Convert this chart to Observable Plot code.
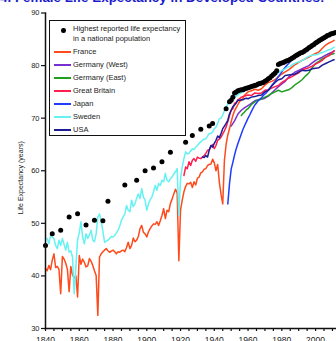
<!DOCTYPE html>
<html><head><meta charset="utf-8">
<script src="https://cdn.jsdelivr.net/npm/d3@7"></script>
<script src="https://cdn.jsdelivr.net/npm/@observablehq/plot@0.6"></script>
<style>
body{margin:0;width:336px;height:341px;overflow:hidden;position:relative;background:#fff;font-family:"Liberation Sans",Arial,sans-serif}
#title{position:absolute;left:0;top:-10px;font:bold 13.4px "Liberation Sans",Arial,sans-serif;color:#1c1ccc;white-space:nowrap;line-height:16px}
#chart{position:absolute;left:0;top:0}
#legend{position:absolute;left:49px;top:20px;width:135px;height:114px;border:1.3px solid #111;background:#fff;font-size:7.5px;color:#222}
.li{position:absolute;left:0;height:10px;line-height:10px;white-space:nowrap}
.sw{position:absolute;left:4px;top:4px;width:17px;height:2px}
.lt{position:absolute;left:23px;top:0}
</style></head><body>
<div id="title">4. Female Life Expectancy in Developed Countries:</div>
<div id="chart"></div>
<div id="legend"></div>
<script>
// Record (highest reported) female life expectancy
const record = [[1840,45.8],[1844,48.0],[1849,48.7],[1854,51.2],[1859,51.8],[1864,49.7],[1869,50.6],[1874,50.5],[1877,54.2],[1887,57.3],[1894,58.2],[1899,60.0],[1904,60.5],[1909,61.7],[1914,63.5],[1923,65.4],[1927,66.7],[1932,67.9],[1937,68.5],[1939,69.0],[1947,71.8],[1949,73.1],
[1950,73.4],[1951,74.0],[1952,74.8],[1953,75.0],[1954,75.2],[1955,75.3],[1956,75.4],[1957,75.4],[1958,75.6],[1959,75.7],[1960,75.8],[1961,75.9],[1962,76.0],[1963,76.1],[1964,76.2],[1965,76.3],[1966,76.5],[1967,76.6],[1968,76.7],[1969,76.8],[1970,77.0],[1971,77.2],[1972,77.5],[1973,77.7],[1974,78.0],[1975,78.3],[1976,78.6],[1977,79.0],[1978,80.2],[1979,80.4],[1980,80.5],[1981,80.6],[1982,80.8],[1983,80.9],[1984,81.0],[1985,81.2],[1986,81.4],[1987,81.6],[1988,81.8],[1989,82.0],[1990,82.2],[1991,82.4],[1992,82.5],[1993,82.7],[1994,82.9],[1995,83.1],[1996,83.4],[1997,83.6],[1998,83.8],[1999,84.0],[2000,84.3],[2001,84.5],[2002,84.7],[2003,84.9],[2004,85.1],[2005,85.3],[2006,85.5],[2007,85.7],[2008,85.8],[2009,86.0],[2010,86.1],[2011,86.2],[2012,86.3]];

const france = [[1840,41.4],[1841,41.0],[1842,42.0],[1843,41.2],[1844,43.0],[1845,44.2],[1846,41.6],[1847,41.8],[1848,41.2],[1849,36.6],[1850,43.7],[1851,43.2],[1852,42.4],[1853,41.2],[1854,37.0],[1855,41.8],[1856,40.2],[1857,39.6],[1858,40.0],[1859,36.0],[1860,43.9],[1861,42.2],[1862,43.2],[1863,42.6],[1864,41.7],[1865,41.9],[1866,43.3],[1867,42.8],[1868,42.0],[1869,41.0],[1870,40.1],[1871,32.5],[1872,43.6],[1873,44.2],[1874,44.6],[1875,44.9],[1876,45.2],[1877,44.8],[1878,44.5],[1879,44.7],[1880,44.9],[1881,44.6],[1882,44.2],[1883,44.6],[1884,44.5],[1885,44.8],[1886,44.9],[1887,44.6],[1888,45.4],[1889,46.4],[1890,45.2],[1891,45.8],[1892,47.2],[1893,46.5],[1894,46.8],[1895,47.5],[1896,49.0],[1897,49.6],[1898,48.3],[1899,48.0],[1900,47.4],[1901,48.4],[1902,49.0],[1903,49.5],[1904,49.9],[1905,49.8],[1906,50.3],[1907,49.6],[1908,50.5],[1909,51.5],[1910,52.8],[1911,50.9],[1912,52.5],[1913,52.2],[1914,53.8],[1915,54.6],[1916,55.6],[1917,56.5],[1918,55.8],[1919,42.9],[1920,52.5],[1921,54.4],[1922,56.0],[1923,57.0],[1924,57.6],[1925,57.5],[1926,57.8],[1927,56.8],[1928,57.9],[1929,57.3],[1930,58.6],[1931,58.8],[1932,59.6],[1933,59.8],[1934,60.3],[1935,60.4],[1936,61.0],[1937,61.2],[1938,61.3],[1939,62.2],[1940,61.5],[1941,60.0],[1942,61.2],[1943,57.8],[1944,55.5],[1945,53.7],[1946,62.0],[1947,65.0],[1948,66.8],[1949,68.0],[1950,69.3],[1951,70.5],[1952,71.4],[1953,72.0],[1954,72.6],[1955,73.2],[1956,73.4],[1957,73.8],[1958,74.4],[1959,74.7],[1960,75.0],[1962,75.2],[1964,75.5],[1966,75.3],[1968,75.6],[1970,76.3],[1972,76.8],[1974,77.0],[1976,77.3],[1978,77.9],[1980,78.4],[1982,78.8],[1984,79.2],[1986,79.7],[1988,80.2],[1990,80.6],[1992,81.0],[1994,81.3],[1996,81.6],[1998,82.0],[2000,82.3],[2002,82.6],[2004,83.3],[2006,83.9],[2008,84.3],[2010,84.6],[2011,84.8]];

const germanyWest = [[1950,68.5],[1952,69.5],[1954,70.8],[1956,71.5],[1958,72.0],[1960,72.4],[1962,72.8],[1964,73.3],[1966,73.5],[1968,73.6],[1970,73.8],[1972,74.2],[1974,74.8],[1976,75.4],[1978,76.0],[1980,76.5],[1982,77.0],[1984,77.8],[1986,78.3],[1988,78.8],[1990,79.1],[1992,79.4],[1994,79.7],[1996,80.0],[1998,80.5],[2000,81.0],[2002,81.3],[2004,81.6],[2006,82.0],[2008,82.3],[2010,82.6],[2011,82.8]];

const germanyEast = [[1956,70.5],[1957,70.9],[1958,71.2],[1959,71.6],[1960,71.8],[1962,72.6],[1964,73.1],[1966,73.5],[1968,73.6],[1970,74.0],[1972,74.3],[1974,74.7],[1976,75.0],[1978,75.3],[1980,75.0],[1982,75.2],[1984,75.4],[1986,75.8],[1988,76.4],[1990,76.8],[1992,77.3],[1994,78.0],[1996,78.6],[1998,79.6],[2000,80.4],[2002,80.8],[2004,81.3],[2006,81.6],[2008,82.0],[2010,82.2],[2011,82.3]];

const greatBritain = [[1922,59.1],[1923,60.7],[1924,60.4],[1925,61.7],[1926,61.0],[1927,62.0],[1928,62.3],[1929,61.8],[1930,62.6],[1931,62.4],[1932,62.3],[1933,62.6],[1934,62.9],[1935,63.3],[1936,63.9],[1937,64.0],[1938,64.6],[1939,65.0],[1940,64.2],[1941,64.8],[1942,65.8],[1943,66.0],[1944,66.4],[1945,67.0],[1946,67.6],[1947,68.3],[1948,69.3],[1949,70.5],[1950,71.5],[1951,71.8],[1952,72.8],[1953,73.0],[1954,73.5],[1955,73.7],[1956,74.0],[1958,74.2],[1960,74.4],[1962,74.3],[1964,74.8],[1966,74.7],[1968,74.8],[1970,75.3],[1972,75.4],[1974,75.7],[1976,76.0],[1978,76.2],[1980,76.8],[1982,77.2],[1984,77.6],[1986,77.9],[1988,78.3],[1990,78.6],[1992,79.2],[1994,79.4],[1996,79.6],[1998,79.9],[2000,80.3],[2002,80.6],[2004,81.0],[2006,81.6],[2008,81.9],[2010,82.5],[2011,82.8]];

const japan = [[1948,53.7],[1949,57.5],[1950,60.3],[1951,61.6],[1952,63.0],[1953,64.2],[1954,65.2],[1955,66.1],[1956,67.0],[1957,67.9],[1958,68.6],[1959,69.3],[1960,70.0],[1961,70.6],[1962,71.3],[1963,71.9],[1964,72.5],[1965,72.9],[1966,73.3],[1967,73.6],[1968,73.9],[1969,74.3],[1970,74.6],[1971,74.9],[1972,75.3],[1973,75.7],[1974,76.2],[1976,77.0],[1978,77.9],[1980,78.8],[1982,79.7],[1984,80.4],[1986,81.1],[1988,81.6],[1990,82.0],[1992,82.4],[1994,82.8],[1996,83.3],[1998,83.7],[2000,84.2],[2002,84.6],[2004,85.0],[2006,85.4],[2008,85.7],[2010,86.0],[2011,86.0]];

const sweden = [[1841,47.1],[1842,46.1],[1843,47.7],[1844,47.4],[1845,47.1],[1846,45.8],[1847,45.2],[1848,46.8],[1849,45.8],[1850,47.1],[1851,46.0],[1852,44.9],[1853,46.4],[1854,44.5],[1855,44.8],[1856,43.6],[1857,36.6],[1858,41.7],[1859,46.8],[1860,48.2],[1861,50.3],[1862,47.4],[1863,46.1],[1864,48.0],[1865,47.1],[1866,47.8],[1867,48.7],[1868,46.8],[1869,46.5],[1870,48.0],[1871,51.2],[1872,51.8],[1873,50.3],[1874,48.5],[1875,46.4],[1876,46.6],[1877,46.8],[1878,47.1],[1879,47.5],[1880,47.4],[1881,47.7],[1882,48.2],[1883,48.7],[1884,49.5],[1885,50.6],[1886,51.2],[1887,51.8],[1888,53.4],[1889,52.5],[1890,52.2],[1891,54.4],[1892,53.2],[1893,53.7],[1894,54.8],[1895,55.6],[1896,54.7],[1897,56.6],[1898,55.0],[1899,54.4],[1900,52.5],[1901,53.7],[1902,54.5],[1903,55.0],[1904,56.0],[1905,57.2],[1906,56.3],[1907,57.6],[1908,57.2],[1909,58.2],[1910,57.9],[1911,59.5],[1912,58.2],[1913,57.9],[1914,58.5],[1915,58.8],[1916,59.4],[1917,59.8],[1918,60.4],[1919,51.5],[1920,58.5],[1921,60.7],[1922,62.3],[1923,63.6],[1924,63.2],[1925,63.3],[1926,63.8],[1927,64.2],[1928,64.0],[1929,64.5],[1930,64.8],[1931,65.2],[1932,65.5],[1933,65.8],[1934,66.0],[1935,66.1],[1936,66.6],[1937,67.1],[1938,67.1],[1939,67.4],[1940,68.0],[1941,68.3],[1942,69.0],[1943,69.9],[1944,70.0],[1945,70.6],[1946,71.4],[1947,72.2],[1948,72.6],[1949,73.1],[1950,73.4],[1951,73.7],[1953,74.2],[1955,74.7],[1957,75.0],[1959,75.3],[1961,75.7],[1963,76.0],[1965,76.3],[1967,76.6],[1969,76.9],[1971,77.2],[1973,77.6],[1975,78.0],[1977,78.4],[1979,78.9],[1981,79.2],[1983,79.6],[1985,79.9],[1987,80.3],[1989,80.6],[1991,80.8],[1993,81.1],[1995,81.6],[1997,81.9],[1999,82.0],[2001,82.1],[2003,82.4],[2005,82.6],[2007,82.9],[2009,83.1],[2011,83.5]];

const usa = [[1933,62.6],[1934,62.5],[1935,62.9],[1936,62.6],[1937,63.9],[1938,64.8],[1939,64.5],[1940,65.2],[1941,65.8],[1942,66.6],[1943,66.3],[1944,67.1],[1945,68.0],[1946,68.5],[1947,69.0],[1948,69.6],[1949,70.8],[1950,71.5],[1951,72.2],[1952,72.5],[1953,72.9],[1954,73.4],[1955,73.4],[1956,73.5],[1957,73.5],[1958,73.7],[1959,73.8],[1960,73.7],[1962,74.0],[1964,74.1],[1966,74.3],[1968,74.4],[1970,75.0],[1972,75.3],[1974,76.1],[1976,76.8],[1978,77.3],[1980,77.5],[1982,78.1],[1984,78.2],[1986,78.3],[1988,78.4],[1990,78.8],[1992,79.1],[1994,79.0],[1996,79.1],[1998,79.4],[2000,79.5],[2002,79.6],[2004,80.1],[2006,80.4],[2008,80.7],[2010,81.0],[2011,81.1]];

const seriesNames = ["France","Germany (West)","Germany (East)","Great Britain","Japan","Sweden","USA"];
const seriesColors = ["#ff4a1c","#7a2fd0","#1fa01f","#ff1e4e","#1f3cff","#66f2f2","#1c1c96"];
const seriesData = [france, germanyWest, germanyEast, greatBritain, japan, sweden, usa];
const recordLabel = ["Highest reported life expectancy","in a national population"];
const yTicks = [30,40,50,60,70,80,90];
const xTicks = d3.range(1840, 2015, 5);
const xLabels = [1840,1860,1880,1900,1920,1940,1960,1980,2000];

const lineMarks = seriesData.map((s, i) => Plot.line(s, {x: d => d[0], y: d => d[1], stroke: seriesColors[i], strokeWidth: 1.5, strokeLinejoin: "round"}));

const chart = Plot.plot({
  width: 336, height: 341,
  marginLeft: 45, marginRight: 0, marginTop: 12.5, marginBottom: 13,
  style: {fontFamily: "'Liberation Sans', Arial, sans-serif", color: "#222", background: "transparent"},
  x: {domain: [1840, 2012.4]},
  y: {domain: [30, 90]},
  marks: [
    ...lineMarks,
    Plot.dot(record, {x: d => d[0], y: d => d[1], r: 2.5, fill: "#000", stroke: "none"}),
    Plot.axisY({ticks: yTicks, tickSize: 4, tickPadding: 2, fontSize: 7.5, label: null, stroke: "#111", strokeWidth: 1.2}),
    Plot.axisX({ticks: xTicks, tickSize: 3, tickPadding: 5, fontSize: 8.5, label: null, tickFormat: d => xLabels.includes(d) ? String(d) : "", stroke: "#111", strokeWidth: 1.2}),
    Plot.frame({anchor: "left", stroke: "#111", strokeWidth: 1.5}),
    Plot.frame({anchor: "bottom", stroke: "#111", strokeWidth: 1.5}),
    Plot.text(["Life Expectancy (years)"], {frameAnchor: "left", rotate: -90, dx: -25, dy: 7, fontSize: 7, textAnchor: "middle", fill: "#222"})
  ]
});
document.getElementById("chart").appendChild(chart);

// legend
const lg = document.getElementById("legend");
const first = document.createElement("div");
first.className = "li"; first.style.top = "3px"; first.style.height = "22px";
first.innerHTML = `<span style="position:absolute;left:11px;top:4px;width:4.6px;height:4.6px;border-radius:50%;background:#000"></span><span class="lt" style="line-height:10px">${recordLabel[0]}<br>${recordLabel[1]}</span>`;
lg.appendChild(first);
seriesNames.forEach((n, i) => {
  const d = document.createElement("div");
  d.className = "li"; d.style.top = (26 + i * 13) + "px";
  d.innerHTML = `<span class="sw" style="background:${seriesColors[i]}"></span><span class="lt">${n}</span>`;
  lg.appendChild(d);
});
</script>
</body></html>
